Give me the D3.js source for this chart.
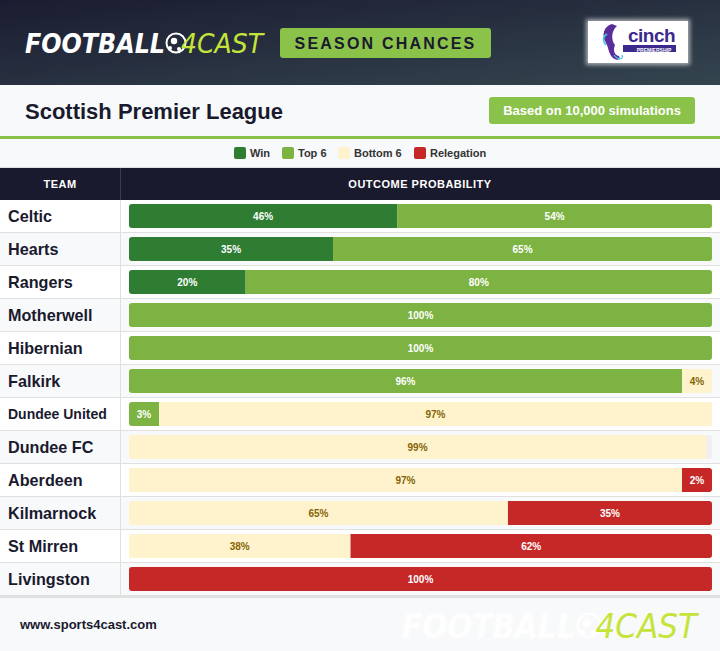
<!DOCTYPE html>
<html>
<head>
<meta charset="utf-8">
<script src="https://cdn.jsdelivr.net/npm/d3@7"></script>
<style>
  html, body { margin: 0; padding: 0; background: #fff; }
  svg { display: block; font-family: "Liberation Sans", Arial, sans-serif; }
</style>
</head>
<body>
<svg id="chart" width="720" height="651"></svg>
<script>
const teams = ["Celtic", "Hearts", "Rangers", "Motherwell", "Hibernian", "Falkirk",
  "Dundee United", "Dundee FC", "Aberdeen", "Kilmarnock", "St Mirren", "Livingston"];
const winPct = [46, 35, 20, 0, 0, 0, 0, 0, 0, 0, 0, 0];
const top6Pct = [54, 65, 80, 100, 100, 96, 3, 0, 0, 0, 0, 0];
const bottom6Pct = [0, 0, 0, 0, 0, 4, 97, 99, 97, 65, 38, 0];
const relegationPct = [0, 0, 0, 0, 0, 0, 0, 0, 2, 35, 62, 100];

const outcomes = ["Win", "Top 6", "Bottom 6", "Relegation"];
const colors = ["#2e7d32", "#7cb342", "#fff3cd", "#c62828"];
const labelColors = ["#fff", "#fff", "#856404", "#fff"];

const W = 720;
const svg = d3.select("#chart");
const defs = svg.append("defs");

// header background
const grad = defs.append("linearGradient").attr("id", "hdr")
  .attr("x1", "0%").attr("y1", "0%").attr("x2", "100%").attr("y2", "100%");
grad.append("stop").attr("offset", "0%").attr("stop-color", "#1b1c31");
grad.append("stop").attr("offset", "100%").attr("stop-color", "#34454f");
svg.append("rect").attr("width", W).attr("height", 85).attr("fill", "url(#hdr)");

// logo: FOOTBALL + ball + 4CAST, k = scale of the 238px wide header version
function logo(x0, base, k, whiteOpacity) {
  const g = svg.append("g").attr("transform", `translate(${x0},${base}) scale(${k})`);
  const ball = g.append("g").attr("opacity", whiteOpacity);
  ball.append("circle").attr("cx", 151).attr("cy", -10).attr("r", 9.5)
    .attr("fill", "none").attr("stroke", "#fff").attr("stroke-width", 2);
  ball.append("circle").attr("cx", 149).attr("cy", -12).attr("r", 3.2).attr("fill", "#fff");
  ball.append("circle").attr("cx", 145).attr("cy", -5).attr("r", 2).attr("fill", "#fff");
  ball.append("circle").attr("cx", 154).attr("cy", -4).attr("r", 2).attr("fill", "#fff");
  const t = g.append("text").attr("font-family", "'DejaVu Sans', sans-serif")
    .attr("font-size", 27).attr("font-style", "italic");
  t.append("tspan").attr("x", 0).attr("font-weight", 700).attr("fill", "#fff")
    .attr("fill-opacity", whiteOpacity).attr("textLength", 140).attr("lengthAdjust", "spacingAndGlyphs")
    .text("FOOTBALL");
  t.append("tspan").attr("x", 156).attr("font-weight", 400).attr("fill", "#c5e43a")
    .attr("textLength", 82).attr("lengthAdjust", "spacingAndGlyphs").text("4CAST");
}
logo(25, 53, 1, 1);

// season chances pill
svg.append("rect").attr("x", 280).attr("y", 28).attr("width", 211).attr("height", 30)
  .attr("rx", 3).attr("fill", "#8bc34a");
svg.append("text").attr("x", 385.5).attr("y", 49).attr("text-anchor", "middle")
  .attr("font-size", 16).attr("font-weight", 700).attr("letter-spacing", 2.2)
  .attr("fill", "#1a1a2e").text("SEASON CHANCES");

// cinch badge
const blur = defs.append("filter").attr("id", "glow").attr("x", "-20%").attr("y", "-20%")
  .attr("width", "140%").attr("height", "140%");
blur.append("feGaussianBlur").attr("stdDeviation", 2);
svg.append("rect").attr("x", 586).attr("y", 19).attr("width", 104).attr("height", 46)
  .attr("fill", "#fff").attr("opacity", 0.6).attr("filter", "url(#glow)");
svg.append("rect").attr("x", 588).attr("y", 21).attr("width", 100).attr("height", 42).attr("fill", "#fff");
svg.append("path")
  .attr("d", "M612,24 C604,26 601,35 606,43 C609,48 608,53 613,58 C617,61 621,60 619,56 C614,55 613,50 615,45 C611,40 611,31 617,26 Z")
  .attr("fill", "#5b2d9b");
svg.append("path").attr("d", "M607,34 C602,37 603,42 606,45").attr("stroke", "#3fc6e6")
  .attr("stroke-width", 1.5).attr("fill", "none");
svg.append("path").attr("d", "M614,55 C618,61 624,59 622,55").attr("stroke", "#3fc6e6")
  .attr("stroke-width", 1.2).attr("fill", "none");
svg.append("text").attr("x", 628).attr("y", 42).attr("font-size", 19).attr("font-weight", 700)
  .attr("fill", "#3b2a8c").attr("letter-spacing", -0.5).text("cinch");
svg.append("rect").attr("x", 623).attr("y", 45).attr("width", 53).attr("height", 7).attr("fill", "#3b2a8c");
svg.append("text").attr("x", 654).attr("y", 51.5).attr("text-anchor", "middle").attr("font-size", 5)
  .attr("font-weight", 700).attr("fill", "#fff").text("PREMIERSHIP");

// title band
svg.append("rect").attr("y", 85).attr("width", W).attr("height", 82).attr("fill", "#f8f9fa");
svg.append("text").attr("x", 25).attr("y", 119).attr("font-size", 22).attr("font-weight", 700)
  .attr("fill", "#1a1a2e").text("Scottish Premier League");
svg.append("rect").attr("x", 489).attr("y", 97).attr("width", 206).attr("height", 27)
  .attr("rx", 3).attr("fill", "#8bc34a");
svg.append("text").attr("x", 592).attr("y", 115).attr("text-anchor", "middle")
  .attr("font-size", 13).attr("font-weight", 700).attr("fill", "#fff").text("Based on 10,000 simulations");
svg.append("rect").attr("y", 136).attr("width", W).attr("height", 3).attr("fill", "#8bc34a");

// legend
const legendX = [234, 282, 338, 414];
const leg = svg.append("g").selectAll("g").data(outcomes).join("g")
  .attr("transform", (d, i) => `translate(${legendX[i]},147)`);
leg.append("rect").attr("width", 12).attr("height", 12).attr("rx", 2)
  .attr("fill", (d, i) => colors[i]);
leg.append("text").attr("x", 16).attr("y", 10).attr("font-size", 11).attr("font-weight", 700)
  .attr("fill", "#333").text(d => d);
svg.append("rect").attr("y", 167).attr("width", W).attr("height", 1).attr("fill", "#e0e0e0");

// table header
const colSplit = 120;
svg.append("rect").attr("y", 168).attr("width", W).attr("height", 32).attr("fill", "#1a1a2e");
svg.append("rect").attr("x", colSplit).attr("y", 168).attr("width", 1).attr("height", 32).attr("fill", "#3a3a5e");
svg.append("text").attr("x", 60).attr("y", 188).attr("text-anchor", "middle").attr("font-size", 11)
  .attr("font-weight", 700).attr("letter-spacing", 0.5).attr("fill", "#fff").text("TEAM");
svg.append("text").attr("x", 420).attr("y", 188).attr("text-anchor", "middle").attr("font-size", 11)
  .attr("font-weight", 700).attr("letter-spacing", 0.5).attr("fill", "#fff").text("OUTCOME PROBABILITY");

// rows
const y = d3.scaleBand().domain(teams).range([200, 596]);
const barX0 = 129, barX1 = 712;
const x = d3.scaleLinear().domain([0, 100]).range([0, barX1 - barX0]);
const minSeg = 30;

const rows = svg.append("g").selectAll("g").data(teams).join("g")
  .attr("transform", d => `translate(0,${y(d)})`);
rows.append("rect").attr("width", W).attr("height", y.bandwidth())
  .attr("fill", (d, i) => i % 2 ? "#f8f9fa" : "#fff");
rows.append("rect").attr("y", y.bandwidth() - 1).attr("width", W).attr("height", 1).attr("fill", "#e0e0e0");
rows.append("rect").attr("x", colSplit).attr("width", 1).attr("height", y.bandwidth()).attr("fill", "#e0e0e0");
rows.append("text").attr("x", 8).attr("y", d => d.length > 11 ? 21 : 22)
  .attr("font-size", d => d.length > 11 ? 14 : 16.2).attr("font-weight", 700)
  .attr("fill", "#1a1a2e").text(d => d);

const barH = 24, barY = 4;
rows.each(function(team, i) {
  const g = d3.select(this);
  g.append("rect").attr("x", barX0).attr("y", barY).attr("width", x(100)).attr("height", barH)
    .attr("rx", 3).attr("fill", "#f0f0f0");
  const vals = [winPct[i], top6Pct[i], bottom6Pct[i], relegationPct[i]];
  // flex-like widths: small segments keep a minimum width, larger ones give way
  let w = vals.map(v => v > 0 ? Math.max(x(v), minSeg) : 0);
  const total = d3.sum(w);
  const full = x(100);
  if (total > full) {
    const over = total - full;
    const big = w.map(ww => ww > minSeg ? ww : 0);
    const bigSum = d3.sum(big);
    w = w.map((ww, k) => big[k] ? ww - over * big[k] / bigSum : ww);
  }
  const segs = [];
  let cx = barX0;
  vals.forEach((v, k) => {
    if (v > 0) { segs.push({ k, v, x: cx, w: w[k] }); cx += w[k]; }
  });
  const clipId = "clip" + i;
  defs.append("clipPath").attr("id", clipId).append("rect")
    .attr("x", barX0).attr("y", barY).attr("width", full).attr("height", barH).attr("rx", 3);
  const sg = g.append("g").attr("clip-path", `url(#${clipId})`);
  sg.selectAll("rect").data(segs).join("rect")
    .attr("x", d => d.x).attr("y", barY).attr("width", d => d.w).attr("height", barH)
    .attr("fill", d => colors[d.k]);
  g.selectAll("text.lbl").data(segs).join("text").attr("class", "lbl")
    .attr("x", d => d.x + d.w / 2).attr("y", barY + barH / 2 + 3.5).attr("text-anchor", "middle")
    .attr("font-size", 10).attr("font-weight", 700).attr("fill", d => labelColors[d.k])
    .text(d => d.v + "%");
});

// footer
svg.append("rect").attr("y", 596).attr("width", W).attr("height", 55).attr("fill", "#f8f9fa");
svg.append("rect").attr("y", 596).attr("width", W).attr("height", 2).attr("fill", "#e0e0e0");
svg.append("text").attr("x", 20).attr("y", 629).attr("font-size", 13).attr("font-weight", 700)
  .attr("fill", "#1a1a2e").text("www.sports4cast.com");
logo(402, 638, 1.24, 0.9);
</script>
</body>
</html>
